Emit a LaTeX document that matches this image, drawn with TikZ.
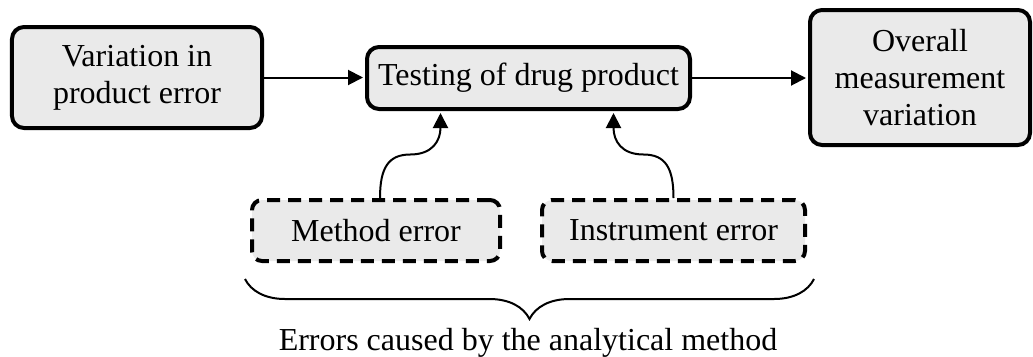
\documentclass[tikz,border=0pt]{standalone}
\usepackage{fontspec}
\setmainfont{Liberation Serif}
\usetikzlibrary{arrows.meta,calc,decorations.pathreplacing}
\definecolor{boxfill}{RGB}{234,234,234}
\begin{document}
\begin{tikzpicture}[x=1bp,y=-1bp,
  every node/.style={font=\fontsize{32bp}{37bp}\selectfont},
  solidbox/.style={draw, line width=4bp, rounded corners=12bp, fill=boxfill,
    align=center, inner sep=0pt},
  dashbox/.style={draw, line width=4bp, rounded corners=10bp, fill=boxfill,
    dash pattern=on 13bp off 8bp, inner sep=0pt},
  link/.style={line width=2bp, -{Triangle[length=15bp,width=15bp]}, shorten >=2bp},
  bracestyle/.style={line width=2bp, decorate,
    decoration={brace, amplitude=40bp, aspect=0.5}}]
\useasboundingbox (0,0) rectangle (1033,356);

% main chain
\node[solidbox, minimum width=250bp, minimum height=101bp] (var) at (137,77.5)
  {Variation in\\product error};
\node[solidbox, minimum width=323bp, minimum height=62bp] (test) at (528.5,78)
  {Testing of drug product};
\node[solidbox, minimum width=220bp, minimum height=135bp] (overall) at (920,77.5)
  {Overall\\measurement\\variation};

% error sources
\node[dashbox, minimum width=248bp, minimum height=61bp] (meth) at (376,230.5)
  {Method error};
\node[dashbox, minimum width=263bp, minimum height=61bp] (inst) at (673.5,230.5)
  {Instrument error};

% straight connectors
\draw[link] (var.east) -- (var.east -| test.west);
\draw[link] (test.east) -- (test.east -| overall.west);

% S-shaped connectors into the testing box
\coordinate (m1) at ([xshift=4bp]meth.north);
\coordinate (m2) at ([xshift=-88bp]test.south);
\coordinate (mm) at ($(m1)!0.5!(m2)$);
\draw[link] (m1) .. controls ($(m1)+(0,-30)$) and ($(mm)+(-22,0)$) .. (mm)
  .. controls ($(mm)+(22,0)$) and ($(m2)+(0,30)$) .. (m2);

\coordinate (i1) at (inst.north);
\coordinate (i2) at ([xshift=85bp]test.south);
\coordinate (im) at ($(i1)!0.5!(i2)$);
\draw[link] (i1) .. controls ($(i1)+(0,-30)$) and ($(im)+(22,0)$) .. (im)
  .. controls ($(im)+(-22,0)$) and ($(i2)+(0,30)$) .. (i2);

% brace grouping the analytical errors
\coordinate (bL) at ([xshift=-5bp,yshift=-16bp]meth.south west);
\coordinate (bR) at ([xshift=7bp,yshift=-16bp]inst.south east);
\draw[bracestyle] (bR) -- (bL);
\node[anchor=base] (lbl) at (528,350) {Errors caused by the analytical method};
\end{tikzpicture}
\end{document}
